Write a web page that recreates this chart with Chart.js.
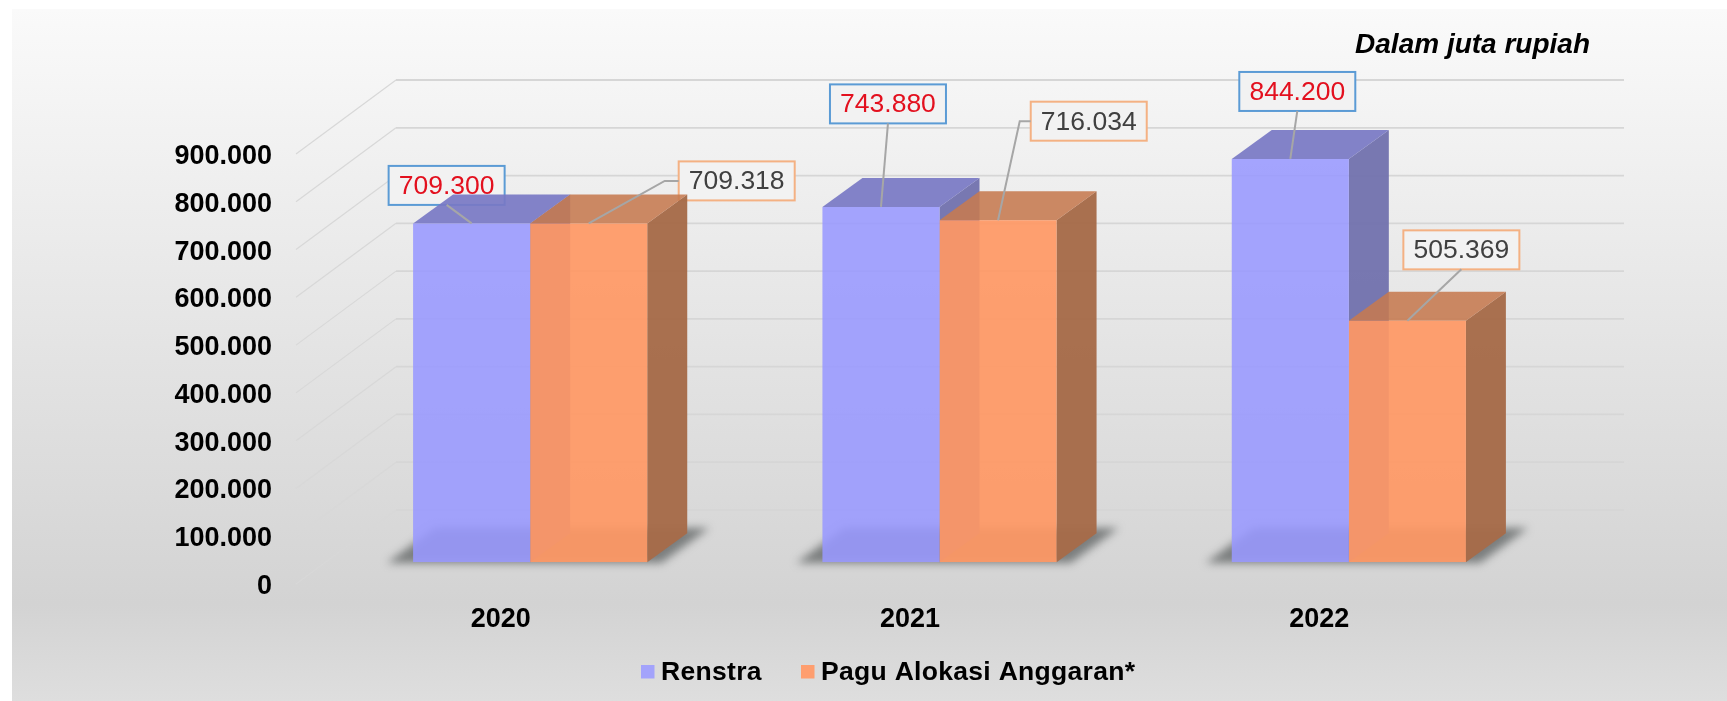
<!DOCTYPE html>
<html>
<head>
<meta charset="utf-8">
<style>html,body{margin:0;padding:0;background:#fff}canvas{display:block}</style>
<script src="https://cdn.jsdelivr.net/npm/chart.js@4"></script>
</head>
<body>
<canvas id="c" width="1727" height="701"></canvas>
<script>
const categories = ['2020', '2021', '2022'];
const renstraValues = [709300, 743880, 844200];
const paguValues = [709318, 716034, 505369];
const seriesNames = ['Renstra', 'Pagu Alokasi Anggaran*'];
const unitNote = 'Dalam juta rupiah';

const FONT = '"Liberation Sans", Arial, sans-serif';
const fmt = v => String(v).replace(/\B(?=(\d{3})+(?!\d))/g, '.');

// 3D projection
const WALL = {dx: 100, dy: -74};
const TICK_SHIFT = 2.5;
const BAR_OFFSET = {dx: 29.5, dy: -24.2};
const BAR_DEPTH = {dx: 40, dy: -29};

const look = [
  {front: 'rgba(153,153,255,0.88)', top: 'rgba(120,120,196,0.92)', side: 'rgba(114,114,174,0.96)', box: '#5b9bd5', text: '#e3101e', swatch: '#a3a3fb'},
  {front: 'rgba(255,152,100,0.92)', top: 'rgba(198,122,80,0.88)', side: 'rgba(166,107,73,0.97)', box: '#f4b183', text: '#404040', swatch: '#fe9e6f'}
];
// callout box centre relative to the top-centre of each bar's front face
const callouts = [
  [{dx: -25, dy: -38}, {dx: 7, dy: -103}, {dx: 7, dy: -67.5}],
  [{dx: 148, dy: -42.5, elbow: 14}, {dx: 90.7, dy: -99, elbow: 11}, {dx: 54, dy: -71}]
];
const BOX = {w: 116, h: 39};

function poly(ctx, pts, fill) {
  ctx.beginPath();
  pts.forEach((p, i) => i ? ctx.lineTo(p[0], p[1]) : ctx.moveTo(p[0], p[1]));
  ctx.closePath();
  ctx.fillStyle = fill;
  ctx.fill();
}
function barRect(el) {
  const w = el.width;
  return {
    l: el.x - w / 2 + BAR_OFFSET.dx, r: el.x + w / 2 + BAR_OFFSET.dx,
    t: el.y + BAR_OFFSET.dy, b: el.base + BAR_OFFSET.dy
  };
}
function calloutGeom(chart, ds, i) {
  const r = barRect(chart.getDatasetMeta(ds).data[i]);
  const ax = (r.l + r.r) / 2 , ay = r.t;
  const c = callouts[ds][i];
  const cx = ax + c.dx, cy = ay + c.dy;
  return {ax, ay, cx, cy, c};
}

const scene = {
  id: 'scene',
  beforeDraw(chart) {
    const {ctx, width, height} = chart;
    ctx.save();
    ctx.fillStyle = '#fff';
    ctx.fillRect(0, 0, width, height);
    const g = ctx.createLinearGradient(0, 9, 0, height);
    g.addColorStop(0, '#fafafa');
    g.addColorStop(0.86, '#d3d3d3');
    g.addColorStop(1, '#dedede');
    ctx.fillStyle = g;
    ctx.fillRect(12, 9, width - 12, height - 9);
    ctx.restore();
  },
  beforeDatasetsDraw(chart) {
    const {ctx, scales: {x, y}, chartArea: ca} = chart;
    ctx.save();
    // walls
    y.ticks.forEach((t, i) => {
      const p = y.getPixelForTick(i) - TICK_SHIFT;
      ctx.beginPath();
      ctx.moveTo(ca.left, p);
      ctx.lineTo(ca.left + WALL.dx, p + WALL.dy);
      ctx.strokeStyle = '#d8d8d8';
      ctx.lineWidth = 1.2;
      ctx.stroke();
      ctx.beginPath();
      ctx.moveTo(ca.left + WALL.dx, p + WALL.dy);
      ctx.lineTo(ca.right + WALL.dx, p + WALL.dy);
      ctx.strokeStyle = '#d6d6d6';
      ctx.lineWidth = 1.8;
      ctx.stroke();
    });
    // callout boxes sit behind the bars
    chart.data.datasets.forEach((d, ds) => {
      d.data.forEach((v, i) => {
        const g = calloutGeom(chart, ds, i);
        ctx.fillStyle = '#f2f2f2';
        ctx.strokeStyle = look[ds].box;
        ctx.lineWidth = 2;
        ctx.fillRect(g.cx - BOX.w / 2, g.cy - BOX.h / 2, BOX.w, BOX.h);
        ctx.strokeRect(g.cx - BOX.w / 2, g.cy - BOX.h / 2, BOX.w, BOX.h);
      });
    });
    // floor shadows
    const a = chart.getDatasetMeta(0).data, b = chart.getDatasetMeta(1).data;
    ctx.save();
    ctx.filter = 'blur(4px)';
    a.forEach((el, i) => {
      const l = barRect(el).l, r = barRect(b[i]).r, base = barRect(el).b + 0.7;
      poly(ctx, [[l - 26, base], [l + 22, base - 35], [r + 62, base - 35], [r + 14, base]], 'rgba(88,92,92,0.72)');
    });
    ctx.restore();
    // side + top faces
    chart.data.datasets.forEach((d, ds) => {
      chart.getDatasetMeta(ds).data.forEach(el => {
        const r = barRect(el), D = BAR_DEPTH;
        poly(ctx, [[r.r, r.t], [r.r + D.dx, r.t + D.dy], [r.r + D.dx, r.b + D.dy], [r.r, r.b]], look[ds].side);
        poly(ctx, [[r.l, r.t], [r.l + D.dx, r.t + D.dy], [r.r + D.dx, r.t + D.dy], [r.r, r.t]], look[ds].top);
      });
    });
    ctx.restore();
    ctx.save();
    ctx.translate(BAR_OFFSET.dx, BAR_OFFSET.dy);
  },
  afterDatasetsDraw(chart) {
    const {ctx} = chart;
    ctx.restore();
    ctx.save();
    // leaders + callout text
    chart.data.datasets.forEach((d, ds) => {
      d.data.forEach((v, i) => {
        const g = calloutGeom(chart, ds, i);
        ctx.beginPath();
        if (g.c.elbow) {
          ctx.moveTo(g.cx - BOX.w / 2, g.cy);
          ctx.lineTo(g.cx - BOX.w / 2 - g.c.elbow, g.cy);
        } else {
          ctx.moveTo(g.cx, g.cy + BOX.h / 2);
        }
        ctx.lineTo(g.ax, g.ay);
        ctx.strokeStyle = '#a6a6a6';
        ctx.lineWidth = 2;
        ctx.stroke();
        ctx.fillStyle = look[ds].text;
        ctx.font = '26.5px ' + FONT;
        ctx.textAlign = 'center';
        ctx.textBaseline = 'middle';
        ctx.fillText(fmt(v), g.cx, g.cy + 1);
      });
    });
    // unit note
    ctx.fillStyle = '#000';
    ctx.font = 'italic bold 28px ' + FONT;
    ctx.textAlign = 'right';
    ctx.textBaseline = 'middle';
    ctx.fillText(unitNote, 1590, 45.5);
    // legend
    ctx.font = 'bold 26.5px ' + FONT;
    ctx.letterSpacing = '0.3px';
    ctx.textAlign = 'left';
    const slots = [641, 801], LEG_Y = 671.5;
    chart.data.datasets.forEach((d, ds) => {
      ctx.fillStyle = look[ds].swatch;
      ctx.fillRect(slots[ds], LEG_Y - 6.5, 13.5, 13.5);
      ctx.fillStyle = '#000';
      ctx.fillText(d.label, slots[ds] + 20, LEG_Y + 1);
    });
    ctx.letterSpacing = '0px';
    ctx.restore();
  }
};

new Chart(document.getElementById('c'), {
  type: 'bar',
  data: {
    labels: categories,
    datasets: [
      {label: seriesNames[0], data: renstraValues, backgroundColor: look[0].front, borderWidth: 0},
      {label: seriesNames[1], data: paguValues, backgroundColor: look[1].front, borderWidth: 0}
    ]
  },
  options: {
    responsive: false,
    animation: false,
    layout: {padding: {top: 156.5, left: 0, right: 203, bottom: 54.5}},
    plugins: {legend: {display: false}, title: {display: false}, tooltip: {enabled: false}},
    datasets: {bar: {categoryPercentage: 0.572, barPercentage: 1}},
    scales: {
      x: {
        grid: {display: false, drawTicks: false},
        border: {display: false},
        ticks: {color: '#000', font: {family: FONT, size: 27, weight: 'bold'}, padding: 17, maxRotation: 0},
        afterFit(s) { s.height = 60; s.paddingLeft = 0; s.paddingRight = 0; }
      },
      y: {
        min: 0, max: 900000,
        grid: {display: false, drawTicks: false},
        border: {display: false},
        ticks: {
          stepSize: 100000,
          color: '#000',
          font: {family: FONT, size: 27, weight: 'bold'},
          padding: 24,
          callback: v => fmt(v)
        },
        afterFit(s) { s.width = 296; s.paddingTop = 0; s.paddingBottom = 0; }
      }
    }
  },
  plugins: [scene]
});
</script>
</body>
</html>
